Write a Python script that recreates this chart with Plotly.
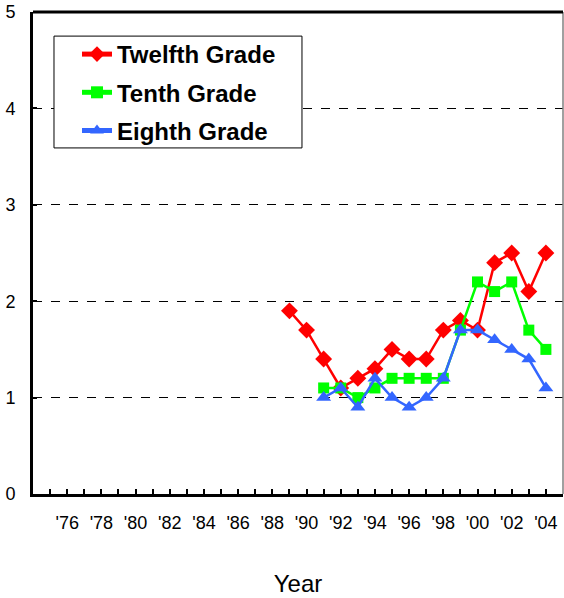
import plotly.graph_objects as go

years_12 = list(range(1989, 2005))
twelfth = [1.9, 1.7, 1.4, 1.1, 1.2, 1.3, 1.5, 1.4, 1.4, 1.7, 1.8, 1.7, 2.4, 2.5, 2.1, 2.5]
years_10_8 = list(range(1991, 2005))
tenth = [1.1, 1.1, 1.0, 1.1, 1.2, 1.2, 1.2, 1.2, 1.7, 2.2, 2.1, 2.2, 1.7, 1.5]
eighth = [1.0, 1.1, 0.9, 1.2, 1.0, 0.9, 1.0, 1.2, 1.7, 1.7, 1.6, 1.5, 1.4, 1.1]

tick_years = list(range(1975, 2005))
tick_text = ["'%02d" % (y % 100) if y % 2 == 0 else "" for y in tick_years]
y_ticks = [0, 1, 2, 3, 4, 5]

FONT = "Liberation Sans, Arial, sans-serif"

fig = go.Figure()
fig.add_trace(go.Scatter(x=years_12, y=twelfth, name="Twelfth Grade", mode="lines+markers",
                         legendgroup="g12",
                         line=dict(color="#FF0000", width=2.5),
                         marker=dict(symbol="diamond", size=13, color="#FF0000")))
fig.add_trace(go.Scatter(x=years_10_8, y=tenth, name="Tenth Grade", mode="lines+markers",
                         legendgroup="g10",
                         line=dict(color="#00FF00", width=2.5),
                         marker=dict(symbol="square", size=11, color="#00FF00")))
fig.add_trace(go.Scatter(x=years_10_8, y=eighth, name="Eighth Grade", mode="lines+markers",
                         legendgroup="g8",
                         line=dict(color="#3366FF", width=2.5),
                         marker=dict(symbol="triangle-up", size=13, color="#3366FF")))

fig.update_layout(
    width=564, height=598,
    margin=dict(l=33, r=1, t=12, b=104, autoexpand=False),
    paper_bgcolor="white", plot_bgcolor="white",
    font=dict(family=FONT, size=18, color="black"),
    showlegend=True,
    legend=dict(x=0.083, y=0.9585, xanchor="left", yanchor="top",
                bgcolor="rgba(0,0,0,0)", borderwidth=0,
                font=dict(family=FONT, size=24, color="black", weight="bold"),
                itemwidth=30, itemsizing="constant", tracegroupgap=4),
    xaxis=dict(range=[1974, 2005], tickmode="array", tickvals=tick_years, ticktext=tick_text,
               ticks="inside", ticklen=5, tickwidth=1.5, tickcolor="black", automargin=False,
               showline=True, linecolor="black", linewidth=3, showgrid=False, zeroline=False,
               ticklabelstandoff=10,
               title=dict(text="Year", font=dict(family=FONT, size=24), standoff=44)),
    yaxis=dict(range=[0, 5], tickmode="array", tickvals=y_ticks, automargin=False,
               ticks="inside", ticklen=4, tickwidth=2, tickcolor="black",
               showline=True, linecolor="black", linewidth=3, zeroline=False,
               showgrid=True, gridcolor="black", gridwidth=1, griddash="dash",
               ticklabelstandoff=11),
    shapes=[
        dict(type="line", xref="paper", yref="paper", x0=1, x1=1, y0=0, y1=1,
             line=dict(color="#808080", width=1.5)),
        dict(type="line", xref="paper", yref="paper", x0=0, x1=1, y0=1, y1=1,
             line=dict(color="black", width=3)),
        dict(type="rect", xref="paper", yref="paper", x0=0.0396, x1=0.5075, y0=0.718, y1=0.950,
             layer="above", fillcolor="white", line=dict(color="black", width=1)),
    ],
)

fig.write_html("out.html", config={"displayModeBar": False},
               post_script="document.body.style.margin='0px';document.body.style.overflow='hidden';")
